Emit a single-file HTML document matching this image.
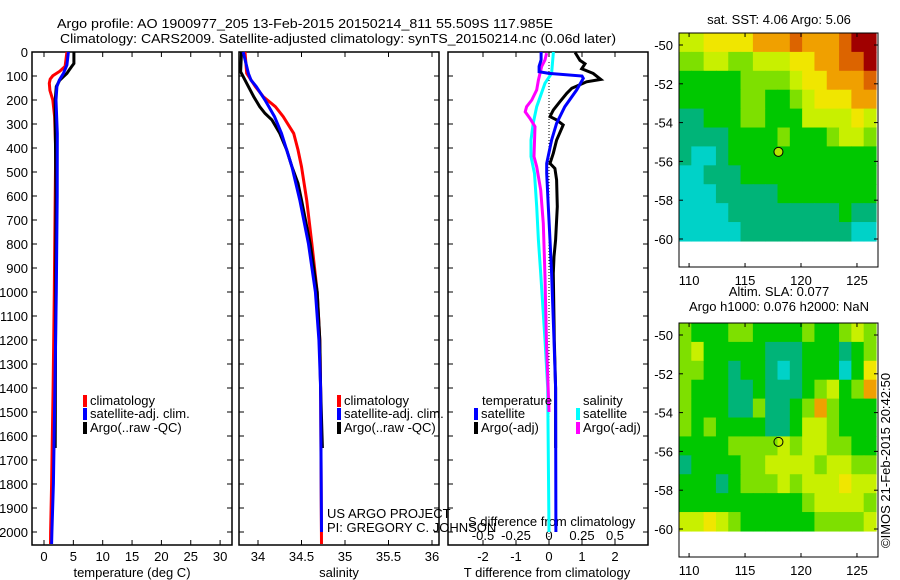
<!DOCTYPE html>
<html><head><meta charset="utf-8"><style>
body{margin:0;background:#fff;}
svg{display:block;font-family:"Liberation Sans",sans-serif;}
</style></head><body>
<svg id="fig" width="900" height="580" viewBox="0 0 900 580" xmlns="http://www.w3.org/2000/svg">
<text x="57" y="28" font-size="13" textLength="496" lengthAdjust="spacingAndGlyphs">Argo profile: AO 1900977_205 13-Feb-2015 20150214_811 55.509S 117.985E</text>
<text x="60" y="43" font-size="13" textLength="556" lengthAdjust="spacingAndGlyphs">Climatology: CARS2009. Satellite-adjusted climatology: synTS_20150214.nc (0.06d later)</text>
<g id="g"></g>
</svg>
<script>
// ---- depth axis ----
const depthTicks=[0,100,200,300,400,500,600,700,800,900,1000,1100,1200,1300,1400,1500,1600,1700,1800,1900,2000];
// ---- panel 1: temperature ----
const tempTicks=[0,5,10,15,20,25,30];
const tClimDepth=[0,60,80,99,113,130,160,200,269,408,600,1000,1400,1800,2000,2050];
const tClimVal=[3.9,3.6,2.7,1.5,1.05,0.9,1.0,1.5,1.8,2.0,1.9,1.75,1.55,1.3,1.13,1.1];
const tSatDepth=[0,54,89,117,144,200,339,600,1000,1400,1800,2000,2050];
const tSatVal=[4.15,3.9,3.3,2.6,2.2,2.05,2.27,2.25,2.1,1.85,1.6,1.35,1.3];
const tArgoDepth=[0,48,61,75,89,103,117,144,200,269,600,1000,1400,1650];
const tArgoVal=[5.1,5.1,4.7,4.3,3.9,3.3,2.7,2.1,1.9,1.9,2.05,2.0,1.95,1.9];
// ---- panel 2: salinity ----
const salTicks=[34,34.5,35,35.5,36];
const sClimDepth=[0,89,144,186,228,269,339,408,478,617,800,1000,1200,1400,2050];
const sClimVal=[33.85,33.87,33.97,34.06,34.2,34.29,34.41,34.46,34.5,34.56,34.62,34.68,34.71,34.72,34.73];
const sSatDepth=[0,89,117,144,200,269,339,408,478,617,800,1000,1200,1400,2000];
const sSatVal=[33.83,33.89,33.92,33.98,34.08,34.19,34.27,34.33,34.39,34.48,34.58,34.66,34.7,34.72,34.73];
const sArgoDepth=[0,82,117,144,186,228,256,283,339,408,478,547,617,800,1000,1200,1400,1650];
const sArgoVal=[33.81,33.8,33.85,33.89,33.95,34.02,34.08,34.16,34.25,34.33,34.39,34.46,34.5,34.6,34.68,34.71,34.72,34.74];
// ---- panel 3: differences ----
const tDiffTicks=[-2,-1,0,1,2];
const sDiffTicks=[-0.5,-0.25,0,0.25,0.5];
const dTSatDepth=[0,33,60,82,89,100,110,158,228,297,367,464,506,644,783,922,1200,1400,2000];
const dTSatVal=[-0.24,-0.24,-0.3,-0.3,0.0,1.0,1.04,0.84,0.48,0.23,0.08,-0.07,-0.07,-0.02,0.03,0.08,0.15,0.2,0.21];
const dTArgoDepth=[2,35,49,70,89,114,124,151,172,207,242,269,283,304,367,422,464,485,533,644,783,853,922,1200,1400,1650];
const dTArgoVal=[0.79,0.94,1.09,0.99,1.34,1.57,1.14,0.69,0.54,0.33,0.13,0.03,0.23,0.43,0.23,0.13,0.03,0.18,0.23,0.25,0.2,0.15,0.13,0.16,0.2,0.2];
const dSSatDepth=[0,89,130,228,297,367,436,506,644,783,922,1200,1400,2000];
const dSSatVal=[0.033,0.02,-0.03,-0.093,-0.12,-0.136,-0.136,-0.11,-0.093,-0.08,-0.063,-0.03,-0.01,0.0];
const dSArgoDepth=[5,33,61,89,117,158,200,228,249,277,311,436,478,575,714,936,1200,1500];
const dSArgoVal=[-0.018,-0.03,-0.056,-0.068,-0.08,-0.093,-0.13,-0.17,-0.18,-0.144,-0.106,-0.114,-0.093,-0.063,-0.043,-0.03,-0.02,0.0];
// ---- maps (levels, rows north->south) ----
const mapLonTicks=[110,115,120,125];
const mapLatTicks=[-50,-52,-54,-56,-58,-60];
const sstGrid=[
[5,5,6,6,6,6,7,7,7,8,7,7,7,8,9,9],
[4,4,5,5,4,4,5,5,5,6,6,7,7,8,8,9],
[3,3,3,3,3,4,4,4,4,5,6,6,7,7,7,8],
[3,3,3,3,3,4,4,3,3,4,5,6,6,6,7,7],
[2,2,3,3,3,4,4,3,3,3,5,5,5,5,6,5],
[2,2,2,2,3,3,3,3,4,3,3,3,4,5,5,4],
[2,1,1,2,3,3,3,3,3,3,3,3,3,3,3,3],
[1,1,2,2,2,3,3,3,3,3,3,3,3,3,3,3],
[1,1,1,2,2,2,2,2,3,3,3,3,3,3,3,3],
[1,1,1,1,2,2,2,2,2,2,2,2,2,3,2,2],
[1,1,1,1,1,2,2,2,2,2,2,2,2,2,1,1]];
const slaGrid=[
[4,3,3,3,4,4,3,3,3,3,4,3,3,4,5,4],
[4,5,3,3,3,3,3,2,2,2,3,3,3,2,3,4],
[4,4,3,3,2,3,3,2,1,2,3,3,3,1,3,6],
[4,3,3,3,2,2,3,2,2,2,3,4,5,3,4,7],
[4,3,3,3,2,2,4,2,2,3,4,7,4,3,3,3],
[4,3,4,3,3,3,3,2,2,3,5,5,4,3,3,3],
[3,3,3,3,4,4,4,4,5,4,5,5,4,4,3,3],
[2,3,3,3,3,4,4,5,5,5,5,4,5,5,4,4],
[3,3,3,2,3,4,4,4,5,4,5,5,5,6,5,5],
[3,3,3,3,3,3,3,3,3,3,4,5,5,5,5,4],
[5,5,6,5,4,3,3,3,3,3,3,4,4,4,4,5]];
const argoLon=[117.985];
const argoLat=[-55.509];

const NS='http://www.w3.org/2000/svg';
const G=document.getElementById('g');
function mk(tag,attrs,parent){const e=document.createElementNS(NS,tag);for(const k in attrs)e.setAttribute(k,attrs[k]);(parent||G).appendChild(e);return e;}
function txt(s,x,y,anchor,size,parent){const t=mk('text',{x:x,y:y,'text-anchor':anchor||'start','font-size':size||13},parent);t.textContent=s;return t;}

const TOP=52,BOT=545;
const yD=d=>52+d*0.24;
const xT=v=>44+v*5.87;
const xS=v=>258+(v-34)*87;
const xDT=v=>549+v*33;
const xDS=v=>549+v*132;

const panels=[{n:'temperature',l:32,r:232,ticks:tempTicks,f:xT,title:'temperature (deg C)'},
{n:'salinity',l:239,r:439,ticks:salTicks,f:xS,title:'salinity'},
{n:'difference',l:448,r:648,ticks:tDiffTicks,f:xDT,title:'T difference from climatology'}];
panels.forEach(p=>{
  const g=mk('g',{});
  
  
  const r=mk('rect',{x:p.l,y:TOP,width:p.r-p.l,height:BOT-TOP,fill:'none',stroke:'#000','stroke-width':1.5},g);
  
  
  depthTicks.forEach(d=>{mk('line',{x1:p.l,x2:p.l+5,y1:yD(d),y2:yD(d),stroke:'#000'},g);mk('line',{x1:p.r,x2:p.r-5,y1:yD(d),y2:yD(d),stroke:'#000'},g);});
  p.ticks.forEach(v=>{const x=p.f(v);mk('line',{x1:x,x2:x,y1:TOP,y2:TOP+5,stroke:'#000'},g);mk('line',{x1:x,x2:x,y1:BOT,y2:BOT-5,stroke:'#000'},g);
    const t=txt(String(v),x,561,'middle',13,g);
    
    });
  const at=txt(p.title,(p.l+p.r)/2+(p.n==='difference'?-1:0),577,'middle',13,g);
  
  
});
depthTicks.forEach(d=>{const t=txt(String(d),28,yD(d)+5,'end',13);
  
  });
sDiffTicks.forEach(v=>{const t=txt(String(v),xDS(v),540,'middle',13);
  
  });
const sdt=txt('S difference from climatology',468,526,'start',13);


const zl=mk('line',{x1:xDT(0),x2:xDT(0),y1:TOP+10,y2:BOT,stroke:'#000','stroke-dasharray':'1,2'});



function series(depths,vals,fx,color,name){
  const pts=depths.map((d,i)=>fx(vals[i]).toFixed(1)+','+yD(d).toFixed(1)).join(' ');
  const pl=mk('polyline',{points:pts,fill:'none',stroke:color,'stroke-width':3,'stroke-linejoin':'miter'});
  
  
}
series(tClimDepth,tClimVal,xT,'#f00','temperature-climatology-line');
series(tArgoDepth,tArgoVal,xT,'#000','temperature-argo-line');
series(tSatDepth,tSatVal,xT,'#00f','temperature-satellite-line');
series(sClimDepth,sClimVal,xS,'#f00','salinity-climatology-line');
series(sArgoDepth,sArgoVal,xS,'#000','salinity-argo-line');
series(sSatDepth,sSatVal,xS,'#00f','salinity-satellite-line');
series(dSSatDepth,dSSatVal,xDS,'#0ff','s-diff-satellite-line');
series(dSArgoDepth,dSArgoVal,xDS,'#f0f','s-diff-argo-line');
series(dTArgoDepth,dTArgoVal,xDT,'#000','t-diff-argo-line');
series(dTSatDepth,dTSatVal,xDT,'#00f','t-diff-satellite-line');

function legend(x,y,color,label){
  const g=mk('g',{});
  
  
  mk('rect',{x:x,y:y-10,width:4,height:12,fill:color},g);
  txt(label,x+7,y,'start',13,g);
}
const legY=[405,418,432];
legend(83,legY[0],'#f00','climatology');legend(83,legY[1],'#00f','satellite-adj. clim.');legend(83,legY[2],'#000','Argo(..raw -QC)');
legend(337,legY[0],'#f00','climatology');legend(337,legY[1],'#00f','satellite-adj. clim.');legend(337,legY[2],'#000','Argo(..raw -QC)');
const lt=txt('temperature',482,405,'start',13);
const ls=txt('salinity',583,405,'start',13);
legend(474,legY[1],'#00f','satellite');legend(474,legY[2],'#000','Argo(-adj)');
legend(576,legY[1],'#0ff','satellite');legend(576,legY[2],'#f0f','Argo(-adj)');
const c1=txt('US ARGO PROJECT',327,518,'start',13);
const c2=txt('PI: GREGORY C. JOHNSON',327,532,'start',13);

// ---- maps ----
const palette=['#00c8dc','#00d2c8','#00b478','#00c800','#7ee000','#c8f000','#f0e600','#f0a000','#dc6400','#a00000'];
const MX0=679,MX1=876,LON0=109.1,LON1=126.7;
const xL=lon=>MX0+(lon-LON0)*(MX1-MX0)/(LON1-LON0);
function drawMap(name,grid,top,title1,title2){
  const g=mk('g',{});
  
  
  const latY=lat=>top+12+(-50-lat)*19.4;
  const rows=grid.length,cols=grid[0].length;
  const y0=top,y1=latY(-60.1);
  const cw=(MX1-MX0)/cols,ch=(y1-y0)/rows;
  grid.forEach((row,i)=>row.forEach((v,j)=>{
    mk('rect',{x:(MX0+j*cw).toFixed(2),y:(y0+i*ch).toFixed(2),width:(cw+0.6).toFixed(2),height:(ch+0.6).toFixed(2),fill:palette[v]},g);
  }));
  const fr=mk('rect',{x:MX0,y:top,width:199,height:234,fill:'none',stroke:'#000','stroke-width':1},g);
  
  
  mapLatTicks.forEach(l=>{const y=latY(l);mk('line',{x1:MX0,x2:MX0+4,y1:y,y2:y,stroke:'#000'},g);mk('line',{x1:878,x2:874,y1:y,y2:y,stroke:'#000'},g);
    txt(String(l),673,y+5,'end',13,g);});
  mapLonTicks.forEach(l=>{const x=xL(l);mk('line',{x1:x,x2:x,y1:top,y2:top+4,stroke:'#000'},g);mk('line',{x1:x,x2:x,y1:top+234,y2:top+230,stroke:'#000'},g);
    txt(String(l),x,top+252,'middle',13,g);});
  argoLon.forEach((lo,i)=>{const c=mk('circle',{cx:xL(lo),cy:latY(argoLat[i]),r:4.5,fill:name==='sst-map'?'#b4e600':'none',stroke:'#000','stroke-width':1},g);
    
    });
  if(title2){txt(title1,779,top-27,'middle',13,g);txt(title2,779,top-12,'middle',13,g);}
  else txt(title1,779,top-9,'middle',13,g);
}
drawMap('sst-map',sstGrid,33,'sat. SST: 4.06 Argo: 5.06');
drawMap('sla-map',slaGrid,323,'Altim. SLA: 0.077','Argo h1000: 0.076 h2000: NaN');
const st=txt('©IMOS 21-Feb-2015 20:42:50',0,0,'start',13);
st.setAttribute('transform','translate(890,548) rotate(-90)');


</script>
</body></html>
